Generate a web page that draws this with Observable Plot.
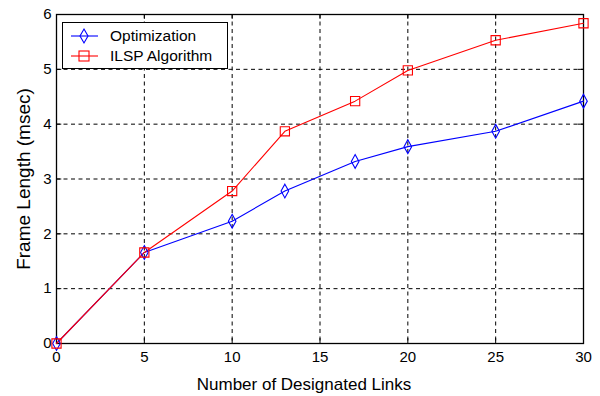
<!DOCTYPE html>
<html>
<head>
<meta charset="utf-8">
<script src="https://cdn.jsdelivr.net/npm/d3@7"></script>
<script src="https://cdn.jsdelivr.net/npm/@observablehq/plot@0.6"></script>
<style>
  body { margin: 0; background: #fff; }
  #wrap { position: relative; width: 600px; height: 396px; font-family: "Liberation Sans", Arial, sans-serif; }
  #legend { position: absolute; left: 62px; top: 22px; width: 164px; height: 45px; border: 1px solid #000; background: #fff; font-size: 15.5px; }
  .row { position: absolute; left: 0; height: 20px; }
  .row svg { position: absolute; left: 8px; top: 0; }
  .row span { position: absolute; left: 47px; top: 1px; white-space: nowrap; color: #000; }
</style>
</head>
<body>
<div id="wrap"></div>
<script>
const links = [0, 5, 10, 13, 17, 20, 25, 30];
const optimization = [0, 1.66, 2.23, 2.78, 3.32, 3.59, 3.87, 4.42];
const ilsp = [0, 1.66, 2.78, 3.87, 4.42, 4.98, 5.53, 5.84];
const seriesNames = ["Optimization", "ILSP Algorithm"];
const seriesColors = ["#0000ff", "#ff0000"];
const xTicks = [0, 5, 10, 15, 20, 25, 30];
const yTicks = [0, 1, 2, 3, 4, 5, 6];

const rows = [];
links.forEach((x, i) => rows.push({x, y: optimization[i], s: seriesNames[0]}));
links.forEach((x, i) => rows.push({x, y: ilsp[i], s: seriesNames[1]}));

// MATLAB-style narrow diamond
const diamond = {
  draw(ctx, size) {
    const h = Math.sqrt(size) * 0.75, w = h * 0.55;
    ctx.moveTo(0, -h); ctx.lineTo(w, 0); ctx.lineTo(0, h); ctx.lineTo(-w, 0); ctx.closePath();
  }
};
const square = {
  draw(ctx, size) {
    const r = Math.sqrt(size) * 0.5;
    ctx.rect(-r, -r, 2 * r, 2 * r);
  }
};

const font = "Liberation Sans, Arial, sans-serif";
const chart = Plot.plot({
  width: 600, height: 396,
  marginLeft: 56, marginRight: 17, marginTop: 14, marginBottom: 53,
  style: {fontFamily: font, fontSize: "15px", color: "#000", background: "#fff"},
  x: {domain: [0, 30]},
  y: {domain: [0, 6]},
  marks: [
    Plot.ruleX(xTicks, {x: d => d, stroke: "#000", strokeDasharray: "4,3.5", strokeWidth: 1}),
    Plot.ruleY(yTicks, {y: d => d, stroke: "#000", strokeDasharray: "4,3.5", strokeWidth: 1}),
    Plot.axisX(xTicks, {tickSize: 0, tickPadding: 8, label: null, fontSize: 15, tickFormat: d => String(d)}),
    Plot.axisY(yTicks, {tickSize: 0, tickPadding: 5, label: null, fontSize: 15, tickFormat: d => String(d)}),
    Plot.ruleX(xTicks, {x: d => d, y1: 0, y2: 0.09, stroke: "#000"}),
    Plot.ruleX(xTicks, {x: d => d, y1: 5.91, y2: 6, stroke: "#000"}),
    Plot.ruleY(yTicks, {y: d => d, x1: 0, x2: 0.3, stroke: "#000"}),
    Plot.ruleY(yTicks, {y: d => d, x1: 29.7, x2: 30, stroke: "#000"}),
    Plot.frame({stroke: "#000", strokeWidth: 1.3}),
    Plot.line(rows.filter(d => d.s === seriesNames[0]), {x: "x", y: "y", stroke: seriesColors[0], strokeWidth: 1.1}),
    Plot.line(rows.filter(d => d.s === seriesNames[1]), {x: "x", y: "y", stroke: seriesColors[1], strokeWidth: 1.1}),
    Plot.dot(rows.filter(d => d.s === seriesNames[0]), {x: "x", y: "y", symbol: diamond, r: 5.2, stroke: seriesColors[0], fill: "none", strokeWidth: 1.1}),
    Plot.dot(rows.filter(d => d.s === seriesNames[1]), {x: "x", y: "y", symbol: square, r: 5.2, stroke: seriesColors[1], fill: "none", strokeWidth: 1.1}),
    Plot.text(["Number of Designated Links"], {frameAnchor: "bottom", dy: 46, dx: -16, text: d => d, fontSize: 17, fill: "#000"}),
    Plot.text(["Frame Length (msec)"], {frameAnchor: "left", dx: -33, rotate: -90, textAnchor: "middle", text: d => d, fontSize: 19, fill: "#000"})
  ]
});
const wrap = document.getElementById("wrap");
wrap.appendChild(chart);

const legend = document.createElement("div");
legend.id = "legend";
const syms = [
  '<path d="M13,3 L17,10 L13,17 L9,10 Z" fill="none" stroke="#0000ff" stroke-width="1.1"/>',
  '<rect x="8" y="5" width="10" height="10" fill="none" stroke="#ff0000" stroke-width="1.1"/>'
];
seriesNames.forEach((name, i) => {
  const r = document.createElement("div");
  r.className = "row";
  r.style.top = (3 + i * 20) + "px";
  r.innerHTML = `<svg width="28" height="20"><line x1="0" x2="27" y1="10" y2="10" stroke="${seriesColors[i]}" stroke-width="1.1"/>${syms[i]}</svg><span>${name}</span>`;
  legend.appendChild(r);
});
wrap.appendChild(legend);
</script>
</body>
</html>
